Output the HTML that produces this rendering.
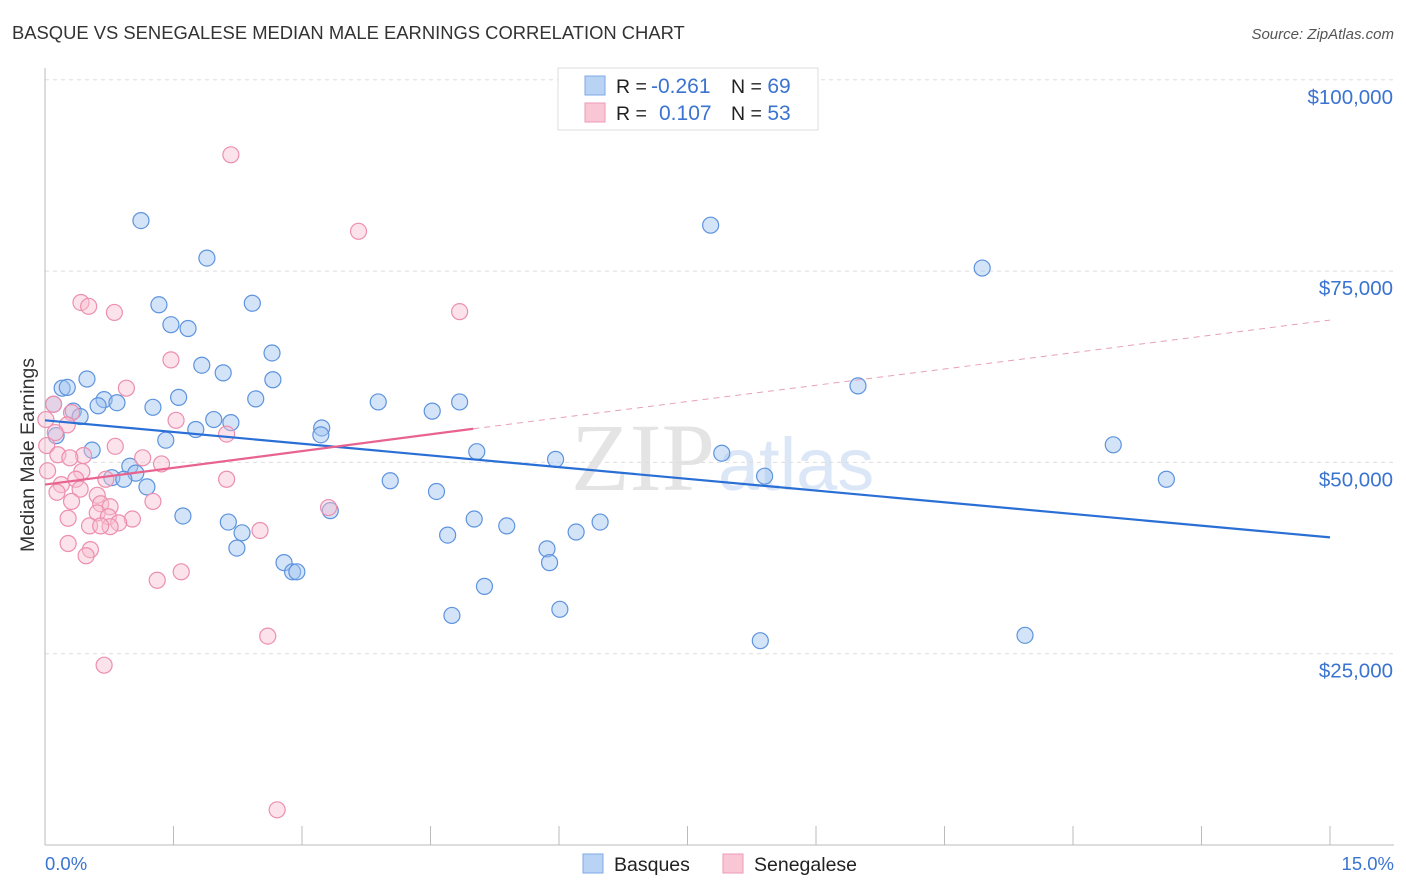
<!DOCTYPE html>
<html><head><meta charset="utf-8"><style>
body{margin:0;background:#fff;font-family:"Liberation Sans",sans-serif}
svg{display:block}
</style></head><body>
<svg id="c" width="1406" height="892" xmlns="http://www.w3.org/2000/svg">
<text x="12" y="39" font-size="18.4" fill="#333">BASQUE VS SENEGALESE MEDIAN MALE EARNINGS CORRELATION CHART</text>
<text x="1394" y="39" font-size="15" fill="#555" font-style="italic" text-anchor="end">Source: ZipAtlas.com</text>
<text x="715" y="490" font-size="96" fill="#e4e4e4" text-anchor="end" font-family="Liberation Serif">ZIP</text>
<text x="718" y="490" font-size="74" fill="#dbe7f6">atlas</text>
<g id="grid"></g><g id="axes"></g><g id="pts"></g><g id="lines"></g>
<text x="34" y="455" font-size="19.5" fill="#333" transform="rotate(-90 34 455)" text-anchor="middle">Median Male Earnings</text>
<text x="45" y="870" font-size="18.5" fill="#3a74d0">0.0%</text>
<text x="1394" y="870" font-size="18.5" fill="#3a74d0" text-anchor="end">15.0%</text>
<g>
<rect x="558" y="68" width="260" height="62" fill="#fff" stroke="#ddd"/>
<rect x="585" y="76" width="20" height="19" fill="#b9d3f5" stroke="#7ea8e6"/>
<rect x="585" y="103" width="20" height="19" fill="#f9c6d6" stroke="#ee9ab5"/>
<text x="616" y="93" font-size="19.5" fill="#222">R = <tspan x="651" font-size="21" fill="#3a74d0">-0.261</tspan><tspan x="731">N = </tspan><tspan font-size="21" fill="#3a74d0">69</tspan></text>
<text x="616" y="120" font-size="19.5" fill="#222">R = <tspan x="659" font-size="21" fill="#3a74d0">0.107</tspan><tspan x="731">N = </tspan><tspan font-size="21" fill="#3a74d0">53</tspan></text>
</g>
<g>
<rect x="583" y="854" width="20" height="19" fill="#b9d3f5" stroke="#7ea8e6"/>
<text x="614" y="871" font-size="19.5" fill="#222">Basques</text>
<rect x="723" y="854" width="20" height="19" fill="#f9c6d6" stroke="#ee9ab5"/>
<text x="754" y="871" font-size="19.5" fill="#222">Senegalese</text>
</g>
</svg>
<script>
const yTicks=[25000,50000,75000,100000];
const yTickLabels=["$25,000","$50,000","$75,000","$100,000"];
const basqueX=[1.12,1.89,7.77,10.94,1.33,2.42,1.47,1.67,2.65,1.83,2.08,2.66,0.49,0.20,0.26,9.49,1.56,0.69,0.84,0.62,0.10,2.46,1.26,3.89,4.84,4.52,0.33,0.41,1.97,2.17,1.76,3.23,3.22,1.41,0.13,0.55,5.04,7.90,5.96,12.47,0.99,1.06,0.78,0.92,1.19,8.40,13.09,4.03,4.57,3.33,1.61,2.14,5.01,5.39,6.48,2.30,4.70,6.20,2.24,5.86,5.89,2.79,2.89,2.94,5.13,6.01,4.75,8.35,11.44];
const basqueY=[81600,76700,81000,75400,70600,70800,68000,67500,64300,62700,61700,60800,60900,59700,59800,60000,58500,58200,57800,57400,57600,58300,57200,57900,57900,56700,56700,56000,55600,55200,54300,54500,53600,52900,53500,51600,51400,51200,50400,52300,49500,48600,48000,47800,46800,48200,47800,47600,46200,43700,43000,42200,42600,41700,42200,40800,40500,40900,38800,38700,36900,36900,35700,35700,33800,30800,30000,26700,27400];
const senX=[2.17,3.66,0.42,0.51,0.81,4.84,1.47,0.95,0.10,0.31,1.53,0.01,0.26,0.12,2.12,0.82,0.02,0.15,0.45,0.29,1.14,1.36,0.43,0.03,2.12,0.71,0.19,0.36,0.41,0.61,0.14,1.26,0.65,0.76,0.31,0.61,0.74,3.31,0.27,1.02,0.86,0.52,0.76,0.65,2.51,0.27,0.53,0.48,1.31,1.59,2.60,0.69,2.71];
const senY=[90200,80200,70900,70400,69600,69700,63400,59700,57600,56500,55500,55600,54900,53900,53700,52100,52200,51000,50900,50600,50600,49800,48800,48900,47800,47800,47100,47800,46500,45700,46100,44900,44600,44200,44900,43400,42900,44100,42700,42600,42100,41700,41600,41700,41100,39400,38600,37800,34600,35700,27300,23500,4600];
const blueFit=[55500,40200], pinkFit=[47100,54400,68600];
const X=v=>45+v/15*1285, Y=v=>845-v/25000*191.3;
const NS="http://www.w3.org/2000/svg";
function mk(tag,at,parent){const e=document.createElementNS(NS,tag);for(const k in at)e.setAttribute(k,at[k]);document.getElementById(parent).appendChild(e);return e;}
yTicks.forEach((t,i)=>{
 const l=mk('line',{x1:45,x2:1394,y1:Y(t),y2:Y(t),stroke:'#ddd','stroke-dasharray':'4,4'},'grid');
 
 
 const tx=mk('text',{x:1393,y:Y(t)+24,'font-size':20.5,fill:'#3a74d0','text-anchor':'end'},'grid');
 tx.textContent=yTickLabels[i];
 
 
});
mk('line',{x1:45,x2:45,y1:68,y2:845,stroke:'#bbb'},'axes');
mk('line',{x1:45,x2:1394,y1:845,y2:845,stroke:'#bbb'},'axes');
for(let i=0;i<=10;i++){const t=mk('line',{x1:X(i*1.5),x2:X(i*1.5),y1:826,y2:845,stroke:'#bbb'},'axes');
 
 }
basqueX.forEach((x,i)=>{const c=mk('circle',{cx:X(x),cy:Y(basqueY[i]),r:8,fill:'rgba(160,196,240,0.45)',stroke:'#5d93de','stroke-width':1.2},'pts');
 
 });
senX.forEach((x,i)=>{const c=mk('circle',{cx:X(x),cy:Y(senY[i]),r:8,fill:'rgba(248,190,208,0.45)',stroke:'#ec8fae','stroke-width':1.2},'pts');
 
 });
const b=mk('line',{x1:X(0),y1:Y(blueFit[0]),x2:X(15),y2:Y(blueFit[1]),stroke:'#2a6fd6','stroke-width':2.2},'lines');


const p=mk('line',{x1:X(0),y1:Y(pinkFit[0]),x2:X(5),y2:Y(pinkFit[1]),stroke:'#e8638f','stroke-width':2.2},'lines');


const pd=mk('line',{x1:X(5),y1:Y(pinkFit[1]),x2:X(15),y2:Y(pinkFit[2]),stroke:'#e8a0b8','stroke-width':1,'stroke-dasharray':'6,5'},'lines');


</script>
</body></html>
